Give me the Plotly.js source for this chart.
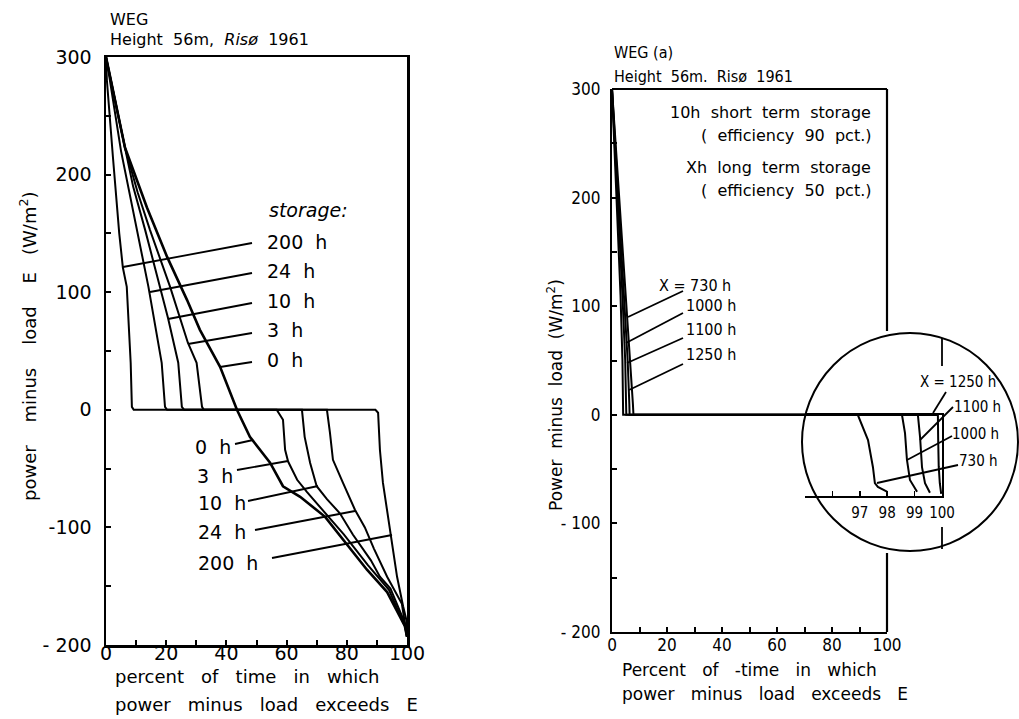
<!DOCTYPE html>
<html>
<head>
<meta charset="utf-8">
<script src="https://cdn.plot.ly/plotly-3.0.1.min.js"></script>
<style>html,body{margin:0;padding:0;background:#fff;}#chart{width:1019px;height:719px;}</style>
</head>
<body>
<div id="chart"></div>
<script>
// ---------- DATA ----------
// Left panel: WEG, height 56 m, Risø 1961 — storage sizes
const storageLabels = ['200 h', '24 h', '10 h', '3 h', '0 h'];

const pct_0h   = [0, 6.3, 13.6, 20.3, 26.9, 31.2, 37.9, 43.5, 47.8, 54.5, 58.8, 64.5, 72.8, 78.7, 86.7, 93.4, 99.3, 100];
const E_0h     = [300, 223, 172, 130, 93.5, 68, 36.5, 0, -23, -45, -65, -74, -91, -110, -136, -155, -184, -193];

const pct_3h   = [0, 6.3, 10.5, 14.6, 21.3, 27.2, 30.1, 31.9, 32.5, 56.7, 58.8, 59.5, 60.5, 63.5, 66.8, 73, 79, 87, 94, 99.3, 100];
const E_3h     = [300, 223, 185, 153, 104.5, 57, 40, 2.5, 0, 0, -8.5, -34, -44, -59.5, -70, -88, -106, -132, -153, -184, -193];

const pct_10h  = [0, 4, 9, 13, 17.9, 20.6, 24, 25.2, 26, 65.1, 66, 67.8, 70, 73.4, 77.7, 82, 88, 91, 94.5, 99.4, 100];
const E_10h    = [300, 250, 190, 153, 104.5, 78, 40, 2.5, 0, 0, -23, -45, -65, -76, -88, -106, -128, -142, -152, -182, -193];

const pct_24h  = [0, 1, 5, 10.3, 14.1, 18.5, 19.6, 20.3, 73.4, 74.4, 75.4, 78.7, 82.7, 86, 89, 93.4, 98.3, 100];
const E_24h    = [300, 285, 220, 153, 104.5, 40, 2.5, 0, 0, -19.5, -42.5, -62, -85, -100, -118, -142, -165, -193];

const pct_200h = [0, 0.3, 2.3, 4.4, 5.6, 6.9, 8.2, 8.6, 9.2, 89.5, 90.4, 91, 92, 94.4, 96.7, 98.7, 100, 100];
const E_200h   = [300, 280, 215, 150, 121, 104.5, 40, 2.5, 0, 0, -2.5, -34, -62, -102, -142, -167, -181, -193];

// Right panel: WEG (a) — 10 h short term + X h long term storage
const longLabels = ['730 h', '1000 h', '1100 h', '1250 h'];
const pct_730h  = [0, 1.6, 3.4, 5.2, 6.7, 7.6, 7.8, 100];
const E_730h    = [300, 240, 175, 110, 50, 10, 0, 0];
const pct_1000h = [0, 1.4, 3.0, 4.5, 5.7, 6.3, 6.4, 100];
const E_1000h   = [300, 240, 175, 110, 50, 10, 0, 0];
const pct_1100h = [0, 1.2, 2.6, 3.8, 4.8, 5.1, 5.2, 100];
const E_1100h   = [300, 240, 175, 110, 50, 10, 0, 0];
const pct_1250h = [0, 1.0, 2.1, 3.1, 3.8, 4.0, 4.05, 100];
const E_1250h   = [300, 240, 175, 110, 50, 10, 0, 0];

// Magnified inset (97–100 percent)
const inPct_730h  = [95, 96.93, 97.3, 97.48, 97.55, 97.66, 97.99];
const inE_730h    = [0, 0, -23.5, -49, -64, -67.5, -72];
const inPct_1000h = [95, 98.54, 98.65, 98.72, 98.83, 99.09];
const inE_1000h   = [0, 0, -17, -42, -61, -72];
const inPct_1100h = [95, 99.12, 99.2, 99.27, 99.38, 99.56];
const inE_1100h   = [0, 0, -21, -49, -64, -73];
const inPct_1250h = [95, 99.85, 99.86, 99.88, 99.92, 99.97];
const inE_1250h   = [0, 0, -22, -48, -64, -74];

// Tick labels
const leftXTicks  = [0,10,20,30,40,50,60,70,80,90,100];
const leftXText   = ['0','','20','','40','','60','','80','','100'];
const leftYTicks  = [-200,-150,-100,-50,0,50,100,150,200,250,300];
const leftYText   = ['- 200','','-100','','0','','100','','200','','300'];
const rightYText  = ['- 200','','- 100','','0','','100','','200','','300'];
const insetTicks  = [96,97,98,99,100];
const insetText   = ['','97','98','99','100'];

// ---------- DRAWING ----------
const W = 1019, H = 719;
const F  = 'DejaVu Sans, sans-serif';
const FC = 'DejaVu Sans Condensed, DejaVu Sans, sans-serif';
const px = v => v / W;
const py = v => 1 - v / H;
const NB = '\u00a0';

function line(x, y, xa, ya, w) {
  return {x: x, y: y, xaxis: xa, yaxis: ya, type: 'scatter', mode: 'lines',
          line: {color: '#000', width: w || 2}, hoverinfo: 'skip', showlegend: false};
}

const traces = [
  line(pct_200h, E_200h, 'x', 'y'),
  line(pct_24h,  E_24h,  'x', 'y'),
  line(pct_10h,  E_10h,  'x', 'y'),
  line(pct_3h,   E_3h,   'x', 'y'),
  line(pct_0h,   E_0h,   'x', 'y', 2.6),
  line(pct_730h,  E_730h,  'x2', 'y2'),
  line(pct_1000h, E_1000h, 'x2', 'y2'),
  line(pct_1100h, E_1100h, 'x2', 'y2'),
  line(pct_1250h, E_1250h, 'x2', 'y2'),
  line(inPct_730h,  inE_730h,  'x3', 'y3'),
  line(inPct_1000h, inE_1000h, 'x3', 'y3'),
  line(inPct_1100h, inE_1100h, 'x3', 'y3'),
  line(inPct_1250h, inE_1250h, 'x3', 'y3')
];

function T(text, x, y, size, anchor, fam, extra) {
  return Object.assign({xref: 'paper', yref: 'paper', x: px(x), y: py(y), text: text,
    showarrow: false, xanchor: anchor || 'left', yanchor: 'middle',
    font: {family: fam || F, size: size, color: '#000'}}, extra || {});
}
function seg(x0, y0, x1, y1, w) {
  return {type: 'line', xref: 'paper', yref: 'paper', x0: px(x0), y0: py(y0), x1: px(x1), y1: py(y1),
          line: {color: '#000', width: w || 1.8}};
}
const sp  = s => s.split(' ').join(NB + NB);
const sp3 = s => s.split(' ').join(NB + NB + NB);

const annotations = [
  // titles
  T('WEG', 108, 19, 16),
  T(sp('Height 56m,') + NB + NB + '<i>Risø</i>' + NB + NB + '1961', 108, 40, 16),
  T('WEG' + NB + '(a)', 612, 53, 16, 'left', FC),
  T(sp('Height 56m.') + NB + NB + 'Risø' + NB + NB + '1961', 612, 77, 16, 'left', FC),
  // left axis titles
  T(sp('power  minus  load  E') + NB + NB + NB + '(W/m<sup>2</sup>)', 28, 346, 18, 'center', F, {textangle: -90}),
  T(sp3('percent of time in which'), 113, 676, 18),
  T(sp3('power minus load exceeds E'), 113, 704, 18),
  // right axis titles
  T(sp('Power minus load') + NB + NB + '(W/m<sup>2</sup>)', 555, 395, 17, 'center', F, {textangle: -90}),
  T(sp3('Percent of -time in which'), 620, 670, 17),
  T(sp3('power minus load exceeds E'), 620, 694, 17),
  // left storage labels (upper)
  T('<i>storage:</i>', 267, 210, 19),
  T(sp(storageLabels[0]), 265, 242, 19),
  T(sp(storageLabels[1]), 265, 271, 19),
  T(sp(storageLabels[2]), 265, 301, 19),
  T(sp(storageLabels[3]), 265, 330, 19),
  T(sp(storageLabels[4]), 265, 360, 19),
  // left storage labels (lower)
  T(sp(storageLabels[4]), 193, 447, 19),
  T(sp(storageLabels[3]), 195, 476, 19),
  T(sp(storageLabels[2]), 196, 503, 19),
  T(sp(storageLabels[1]), 196, 532, 19),
  T(sp(storageLabels[0]), 196, 563, 19),
  // right text block
  T(sp('10h short term storage'), 873, 112, 16, 'right'),
  T(sp('( efficiency 90 pct.)'), 873, 135, 16, 'right'),
  T(sp('Xh long term storage'), 873, 167, 16, 'right'),
  T(sp('( efficiency 50 pct.)'), 873, 190, 16, 'right'),
  // right X labels (main)
  T('X' + NB + '=' + NB + longLabels[0], 657, 285, 16, 'left', FC),
  T(longLabels[1], 684, 306, 16, 'left', FC),
  T(longLabels[2], 684, 330, 16, 'left', FC),
  T(longLabels[3], 684, 355, 16, 'left', FC),
  // inset labels
  T('X' + NB + '=' + NB + longLabels[3], 918, 382, 15, 'left', FC),
  T(longLabels[2], 952, 407, 15, 'left', FC),
  T(longLabels[1], 950, 434, 15, 'left', FC),
  T(longLabels[0], 957, 461, 15, 'left', FC)
];

const shapes = [
  // magnifier circle
  {type: 'circle', xref: 'paper', yref: 'paper', x0: px(910 - 108), x1: px(910 + 108),
   y0: py(442 + 109), y1: py(442 - 109), line: {color: '#000', width: 2}, layer: 'below'},
  // right panel border (interrupted by circle)
  seg(612, 89, 887, 89, 2.2),
  seg(887, 89, 887, 331, 2.2),
  seg(887, 553, 887, 632, 2.2),
  // inset x=100 marks above / below
  seg(942, 338, 942, 366, 1.8),
  seg(942, 527, 942, 549, 1.8),
  // left upper leaders
  seg(252, 243, 123, 267), seg(252, 273, 150, 292), seg(252, 303, 168, 319),
  seg(252, 333, 188, 344), seg(252, 362, 220, 367),
  // left lower leaders
  seg(235, 444, 253, 440), seg(237, 470, 288, 461), seg(248, 501, 318, 486),
  seg(255, 530, 355, 511), seg(272, 558, 392, 535),
  // right main leaders
  seg(683, 291, 628, 317), seg(683, 313, 626, 343), seg(683, 338, 627, 363), seg(683, 364, 629, 390),
  // inset leaders
  seg(946, 392, 933, 413), seg(953, 407, 920, 440), seg(952, 436, 907, 460), seg(958, 465, 877, 483)
];

const tickFont = {family: F, size: 19, color: '#000'};
const tickFontR = {family: FC, size: 17, color: '#000'};
const layout = {
  width: W, height: H, margin: {l: 0, r: 0, t: 0, b: 0, pad: 0},
  paper_bgcolor: '#fff', plot_bgcolor: 'rgba(0,0,0,0)', showlegend: false,
  xaxis: {domain: [px(106), px(407)], range: [0, 100], anchor: 'y',
    showline: true, mirror: true, linecolor: '#000', linewidth: 2.5, showgrid: false, zeroline: false,
    ticks: 'inside', ticklen: 5, tickwidth: 2, tickcolor: '#000',
    tickvals: leftXTicks, ticktext: leftXText, tickfont: tickFont, ticklabelstandoff: -10},
  yaxis: {domain: [py(645), py(57)], range: [-200, 300], anchor: 'x',
    showline: true, mirror: true, linecolor: '#000', linewidth: 2.5, showgrid: false, zeroline: false,
    ticks: 'inside', ticklen: 5, tickwidth: 2, tickcolor: '#000',
    tickvals: leftYTicks, ticktext: leftYText, tickfont: tickFont, ticklabelstandoff: 8},
  xaxis2: {domain: [px(612), px(887)], range: [0, 100], anchor: 'y2',
    showline: true, linecolor: '#000', linewidth: 2.2, showgrid: false, zeroline: false,
    ticks: 'inside', ticklen: 5, tickwidth: 2, tickcolor: '#000',
    tickvals: leftXTicks, ticktext: leftXText, tickfont: tickFontR, ticklabelstandoff: -4},
  yaxis2: {domain: [py(632), py(89)], range: [-200, 300], anchor: 'x2',
    showline: true, linecolor: '#000', linewidth: 2.2, showgrid: false, zeroline: false,
    ticks: 'inside', ticklen: 5, tickwidth: 2, tickcolor: '#000',
    tickvals: leftYTicks, ticktext: rightYText, tickfont: tickFontR, ticklabelstandoff: 6},
  xaxis3: {domain: [px(805), px(942)], range: [95, 100], anchor: 'y3',
    showline: true, mirror: true, linecolor: '#000', linewidth: 2, showgrid: false, zeroline: false,
    ticks: 'inside', ticklen: 5, tickwidth: 1.8, tickcolor: '#000',
    tickvals: insetTicks, ticktext: insetText, tickfont: {family: FC, size: 15, color: '#000'}, ticklabelstandoff: 2},
  yaxis3: {domain: [py(496), py(415)], range: [-76, 0], anchor: 'x3', side: 'right',
    showline: true, linecolor: '#000', linewidth: 2, showgrid: false, zeroline: false,
    ticks: '', showticklabels: false},
  annotations: annotations,
  shapes: shapes
};

Plotly.newPlot('chart', traces, layout, {staticPlot: true, displayModeBar: false});
</script>
</body>
</html>
